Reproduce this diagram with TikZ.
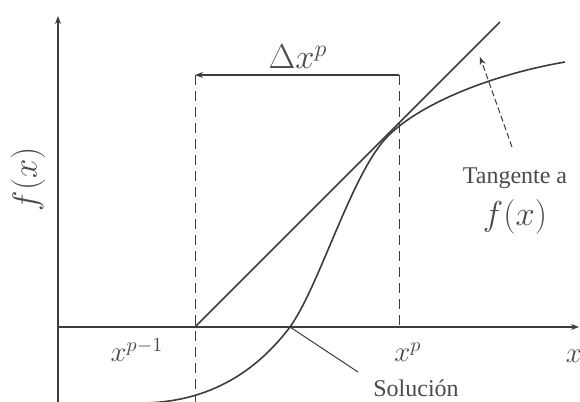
\documentclass[tikz,border=0pt]{standalone}
\usepackage{fontspec}
\setmainfont{Liberation Serif}
\usepackage{tikz}
\usetikzlibrary{positioning,arrows.meta}
\definecolor{scanink}{HTML}{3C3C3C}
\definecolor{scanlabel}{HTML}{4A4A4A}

\begin{document}
\begin{tikzpicture}[
  x=0.5pt,y=-0.5pt,
  axis/.style={scanink,line width=0.9pt,-{Stealth[length=4pt,width=3pt]}},
  guide/.style={scanink,line width=0.5pt,dash pattern=on 5pt off 3pt},
  fn/.style={scanink,line width=0.8pt},
  pointer/.style={scanink,line width=0.5pt},
  mlabel/.style={text=scanlabel,font=\Large,inner sep=0pt},
  tlabel/.style={text=scanlabel,font=\fontsize{12}{14}\selectfont,inner sep=0pt}
]
\useasboundingbox (0,0) rectangle (580,402);
% axes
\coordinate (o) at (58,327);
\coordinate (ytop) at (58,16);
\coordinate (ybot) at (58,402);
\coordinate (xend) at (579,327);
\draw[axis] (ybot) -- (ytop);
\draw[axis] (o) -- (xend);
% iterates and step
\coordinate (xa) at (195,327);
\coordinate (xb) at (399,327);
\coordinate (xabot) at (195,402);
\coordinate (da) at (195,75);
\coordinate (db) at (399,75);
\draw[guide] (da) -- (xabot);
\draw[guide] (db) -- (xb);
\draw[pointer,line width=0.8pt,-{Stealth[length=4pt,width=3pt]}] (db) -- (da);
% function and tangent
\coordinate (fstart) at (140,403);
\coordinate (root) at (290,327);
\coordinate (tp) at (388,136);
\coordinate (fend) at (565,62);
\coordinate (tend) at (500,22);
\draw[fn] (xa) -- (tend);
\draw[fn] (fstart) .. controls (220,403) and (265,360) .. (root)
  .. controls (320,285) and (352,172) .. (tp)
  .. controls (420,104) and (490,75) .. (fend);
% labels
\node[mlabel,font=\LARGE] (dx) at (298,57) {$\Delta x^{p}$};
\node[mlabel] (xpm) at (137,350) {$x^{p-1}$};
\node[mlabel] (xp) at (408,352) {$x^{p}$};
\node[mlabel] (xl) at (574,356) {$x$};
\node[mlabel,font=\LARGE,rotate=90] (fy) at (28,179) {$f(x)$};
\node[tlabel] (tg) at (515,178) {Tangente a};
\node[mlabel,font=\LARGE,below=5pt of tg] (tgf) {$f(x)$};
\node[tlabel] (sol) at (416,388) {Solución};
% pointers
\coordinate (tgp) at (512,147);
\coordinate (tga) at (480,57);
\coordinate (solp) at (358,372);
\draw[pointer,dash pattern=on 3pt off 1.5pt,-{Stealth[length=4pt,width=3pt]}] (tgp) -- (tga);
\draw[pointer] (solp) -- (root);
\end{tikzpicture}
\end{document}
